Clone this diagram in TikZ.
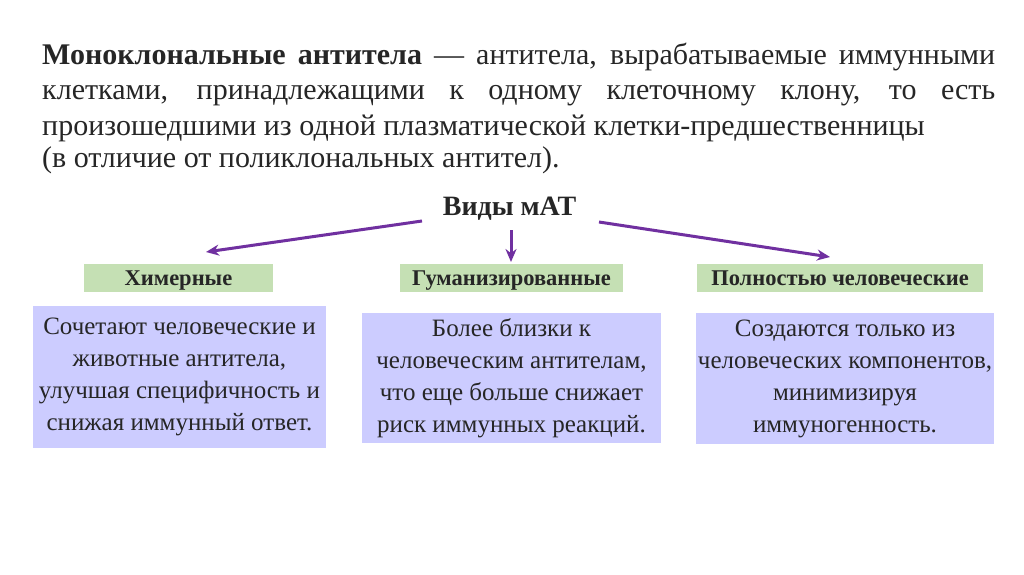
\documentclass[tikz,border=0pt]{standalone}
\usepackage{fontspec}
\setmainfont{Liberation Serif}
\usetikzlibrary{arrows.meta}
\definecolor{txt}{HTML}{262626}
\definecolor{arr}{HTML}{7030A0}
\definecolor{grn}{HTML}{C5E0B4}
\definecolor{lav}{HTML}{CCCCFF}
\begin{document}
\begin{tikzpicture}[x=1pt,y=-1pt,
  para/.style={anchor=base west, inner sep=0, text=txt, font=\fontsize{30}{34}\selectfont},
  gbox/.style={fill=grn, inner sep=0, minimum height=28pt, text height=19pt, text depth=4pt, text=txt, font=\bfseries\fontsize{22.5}{26}\selectfont},
  lbox/.style={fill=lav, inner sep=0, align=center, text=txt, font=\fontsize{25}{32}\selectfont},
  conn/.style={draw=arr, line width=3pt, -{Stealth[length=13pt,width=11pt]}}]
\useasboundingbox[fill=white] (0,0) rectangle (1024,574);
\node[para] (p1) at (42,64) {\makebox[953pt][s]{\textbf{Моноклональные антитела} — антитела, вырабатываемые иммунными}};
\node[para] (p2) at (42,99) {\makebox[953pt][s]{клетками, принадлежащими к одному клеточному клону, то есть}};
\node[para] (p3) at (42,135.5) {произошедшими из одной плазматической клетки-предшественницы};
\node[para] (p4) at (42,167) {(в отличие от поликлональных антител).};
\node[anchor=base, inner sep=0, text=txt, font=\bfseries\fontsize{28}{30}\selectfont] (vid) at (509.5,215) {Виды мАТ};
\node[gbox, minimum width=189pt] (g1) at (178.5,277.5) {Химерные};
\node[gbox, minimum width=223pt] (g2) at (511.5,277.5) {Гуманизированные};
\node[gbox, minimum width=286pt] (g3) at (840,277.5) {Полностью человеческие};
\node[lbox, minimum width=293pt, minimum height=142pt] (b1) at (179.5,377) {Сочетают человеческие и\\животные антитела,\\улучшая специфичность и\\снижая иммунный ответ.};
\node[lbox, minimum width=299pt, minimum height=130pt] (b2) at (511.5,378) {Более близки к\\человеческим антителам,\\что еще больше снижает\\риск иммунных реакций.};
\node[lbox, minimum width=298pt, minimum height=131pt] (b3) at (845,378.5) {Создаются только из\\человеческих компонентов,\\минимизируя\\иммуногенность.};
\coordinate (s1) at (422,221);
\coordinate (e1) at (206,252);
\coordinate (s2) at (511,230);
\coordinate (e2) at (511,262);
\coordinate (s3) at (599,222);
\coordinate (e3) at (830,257);
\draw[conn] (s1) -- (e1);
\draw[conn] (s2) -- (e2);
\draw[conn] (s3) -- (e3);
\end{tikzpicture}
\end{document}
